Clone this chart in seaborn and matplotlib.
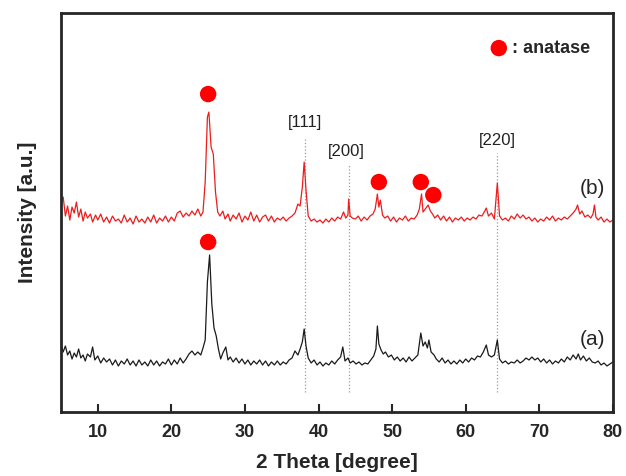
import numpy as np
import pandas as pd
import seaborn as sns
import matplotlib.pyplot as plt

# XRD patterns, (2 theta, intensity a.u.)
curve_a = [(5.0, 68), (5.3, 60), (5.6, 66), (5.9, 57), (6.2, 61), (6.5, 53), (6.8, 59), (7.1, 55),
           (7.4, 63), (7.7, 54), (8.0, 57), (8.3, 51), (8.6, 58), (9.0, 55), (9.3, 65), (9.6, 52),
           (10.0, 56), (10.4, 49), (10.8, 54), (11.2, 50), (11.6, 53), (12.0, 47), (12.4, 52), (12.8, 46),
           (13.2, 51), (13.6, 48), (14.0, 53), (14.4, 47), (14.8, 51), (15.2, 46), (15.6, 52), (16.0, 47),
           (16.4, 50), (16.8, 46), (17.2, 52), (17.6, 47), (18.0, 51), (18.4, 46), (18.8, 50), (19.2, 48),
           (19.6, 53), (20.0, 47), (20.4, 52), (20.8, 48), (21.2, 54), (21.6, 49), (22.0, 53), (22.4, 58),
           (22.8, 61), (23.2, 57), (23.6, 60), (24.0, 57), (24.3, 64), (24.6, 72), (24.9, 130), (25.2, 157),
           (25.5, 108), (25.8, 84), (26.1, 76), (26.4, 63), (26.7, 53), (27.0, 59), (27.4, 65), (27.7, 52),
           (28.0, 55), (28.4, 50), (28.8, 54), (29.2, 49), (29.6, 53), (30.0, 48), (30.4, 52), (30.8, 47),
           (31.2, 51), (31.6, 48), (32.0, 52), (32.4, 47), (32.8, 51), (33.2, 46), (33.6, 50), (34.0, 47),
           (34.4, 51), (34.8, 47), (35.2, 50), (35.6, 48), (36.0, 52), (36.4, 54), (36.8, 61), (37.2, 57),
           (37.5, 63), (37.8, 70), (38.05, 83), (38.3, 66), (38.6, 54), (39.0, 49), (39.4, 52), (39.8, 47),
           (40.2, 50), (40.6, 46), (41.0, 49), (41.4, 47), (41.8, 51), (42.2, 48), (42.6, 52), (43.0, 55),
           (43.3, 65), (43.6, 51), (44.0, 54), (44.3, 49), (44.7, 51), (45.1, 48), (45.5, 50), (45.9, 47),
           (46.3, 49), (46.7, 48), (47.1, 52), (47.5, 56), (47.8, 63), (48.0, 86), (48.2, 68), (48.5, 62),
           (48.8, 58), (49.1, 60), (49.5, 55), (49.9, 57), (50.3, 52), (50.7, 55), (51.1, 51), (51.5, 54),
           (51.9, 50), (52.3, 55), (52.7, 51), (53.1, 54), (53.5, 57), (53.9, 79), (54.2, 66), (54.5, 70),
           (54.8, 64), (55.0, 72), (55.3, 60), (55.7, 57), (56.0, 53), (56.4, 50), (56.8, 54), (57.2, 49),
           (57.6, 52), (58.0, 48), (58.4, 51), (58.8, 48), (59.2, 52), (59.6, 49), (60.0, 53), (60.4, 50),
           (60.8, 54), (61.2, 52), (61.6, 56), (62.0, 55), (62.4, 60), (62.8, 67), (63.1, 57), (63.5, 55),
           (63.9, 57), (64.3, 72), (64.6, 53), (65.0, 49), (65.4, 51), (65.8, 48), (66.2, 50), (66.6, 49),
           (67.0, 52), (67.4, 49), (67.8, 51), (68.2, 54), (68.6, 52), (69.0, 55), (69.4, 52), (69.8, 54),
           (70.2, 50), (70.6, 53), (71.0, 49), (71.4, 52), (71.8, 48), (72.2, 51), (72.6, 49), (73.0, 53),
           (73.4, 50), (73.8, 55), (74.2, 52), (74.6, 57), (75.0, 53), (75.3, 58), (75.6, 52), (76.0, 56),
           (76.4, 51), (76.8, 54), (77.2, 50), (77.6, 49), (78.0, 51), (78.4, 47), (78.8, 49), (79.2, 46),
           (79.6, 48), (80.0, 50)]

curve_b = [(5.0, 208), (5.3, 215), (5.6, 196), (5.9, 206), (6.2, 192), (6.5, 205), (6.8, 199), (7.1, 210),
           (7.4, 195), (7.7, 203), (8.0, 191), (8.3, 200), (8.6, 194), (9.0, 198), (9.3, 190), (9.7, 197),
           (10.0, 192), (10.4, 198), (10.8, 190), (11.2, 195), (11.6, 189), (12.0, 196), (12.4, 191), (12.8, 193),
           (13.2, 189), (13.6, 197), (14.0, 190), (14.4, 194), (14.8, 188), (15.2, 196), (15.6, 190), (16.0, 193),
           (16.4, 189), (16.8, 195), (17.2, 190), (17.6, 197), (18.0, 189), (18.4, 194), (18.8, 191), (19.2, 196),
           (19.6, 190), (20.0, 195), (20.4, 191), (20.8, 199), (21.2, 201), (21.6, 195), (22.0, 199), (22.4, 196),
           (22.8, 201), (23.2, 197), (23.6, 203), (24.0, 196), (24.3, 200), (24.6, 230), (24.9, 295), (25.1, 300),
           (25.4, 265), (25.7, 258), (26.0, 220), (26.3, 200), (26.6, 196), (27.0, 201), (27.3, 193), (27.7, 198),
           (28.0, 191), (28.4, 197), (28.8, 193), (29.2, 199), (29.6, 190), (30.0, 196), (30.4, 192), (30.8, 200),
           (31.2, 191), (31.6, 197), (32.0, 190), (32.4, 195), (32.8, 197), (33.2, 191), (33.6, 196), (34.0, 190),
           (34.4, 194), (34.8, 192), (35.2, 195), (35.6, 191), (36.0, 194), (36.4, 196), (36.8, 199), (37.2, 208),
           (37.5, 206), (37.8, 225), (38.05, 250), (38.3, 222), (38.6, 196), (39.0, 191), (39.4, 193), (39.8, 190),
           (40.2, 192), (40.6, 189), (41.0, 193), (41.4, 190), (41.8, 194), (42.2, 191), (42.6, 195), (43.0, 193),
           (43.4, 200), (43.7, 194), (44.0, 197), (44.1, 213), (44.3, 196), (44.6, 194), (45.0, 193), (45.4, 196),
           (45.8, 191), (46.2, 195), (46.6, 192), (47.0, 196), (47.4, 198), (47.7, 203), (48.0, 218), (48.2, 205),
           (48.4, 212), (48.7, 197), (49.0, 194), (49.4, 196), (49.8, 191), (50.2, 195), (50.6, 190), (51.0, 194),
           (51.4, 192), (51.8, 196), (52.2, 191), (52.6, 194), (53.0, 193), (53.4, 197), (53.7, 203), (54.0, 218),
           (54.2, 200), (54.5, 203), (54.9, 207), (55.2, 201), (55.5, 198), (55.8, 194), (56.2, 197), (56.6, 192),
           (57.0, 196), (57.4, 191), (57.8, 195), (58.2, 190), (58.6, 194), (59.0, 192), (59.4, 195), (59.8, 191),
           (60.2, 194), (60.6, 192), (61.0, 195), (61.4, 193), (61.8, 197), (62.2, 196), (62.6, 201), (62.8, 204),
           (63.1, 196), (63.5, 199), (63.9, 193), (64.3, 229), (64.6, 196), (65.0, 192), (65.4, 194), (65.8, 191),
           (66.2, 196), (66.6, 193), (67.0, 198), (67.4, 194), (67.8, 197), (68.2, 193), (68.6, 195), (69.0, 191),
           (69.4, 194), (69.8, 190), (70.2, 193), (70.6, 191), (71.0, 195), (71.4, 192), (71.8, 196), (72.2, 191),
           (72.6, 194), (73.0, 192), (73.4, 195), (73.8, 193), (74.2, 196), (74.6, 199), (75.0, 203), (75.2, 207),
           (75.5, 198), (75.8, 201), (76.2, 195), (76.6, 197), (77.0, 194), (77.3, 198), (77.5, 207), (77.7, 195),
           (78.0, 192), (78.4, 195), (78.8, 190), (79.2, 193), (79.6, 190), (80.0, 192)]

# anatase markers (2 theta, height)
anatase_x = [25.0, 25.0, 48.2, 53.9, 55.6]
anatase_y = [318, 170, 230, 230, 217]

# reference lines + miller index labels
hkl_pos = [38.2, 44.1, 64.3]
hkl_top = [275, 247, 259]
hkl_labels = ["[111]", "[200]", "[220]"]
hkl_label_x = [38.2, 43.8, 64.3]
hkl_label_y = [290, 261, 272]

df_a = pd.DataFrame(curve_a, columns=["theta", "intensity"])
df_b = pd.DataFrame(curve_b, columns=["theta", "intensity"])
dots = pd.DataFrame({"theta": anatase_x, "intensity": anatase_y})

sns.set_style("ticks")
plt.rcParams["font.family"] = ["Liberation Sans", "DejaVu Sans"]

fig = plt.figure(figsize=(6.26, 4.76), dpi=100)
ax = fig.add_axes([0.0974, 0.1345, 0.8816, 0.838])

#dotted reference lines
for xp, yt in zip(hkl_pos, hkl_top):
    ax.plot([xp, xp], [20, yt], ls=":", color="#9a9a9a", lw=0.9, zorder=1)
for xl, yl, lab in zip(hkl_label_x, hkl_label_y, hkl_labels):
    ax.text(xl, yl, lab, ha="center", va="center", fontsize=12, color="#222222")

sns.lineplot(data=df_a, x="theta", y="intensity", color="#1a1a1a", lw=0.9,
             sort=False, estimator=None, ax=ax, zorder=2)
sns.lineplot(data=df_b, x="theta", y="intensity", color="#ee1c1c", lw=0.9,
             sort=False, estimator=None, ax=ax, zorder=2)
sns.scatterplot(data=dots, x="theta", y="intensity", color="#ff0000", s=140,
                edgecolor="none", ax=ax, zorder=3)

ax.text(77.2, 72, "(a)", ha="center", va="center", fontsize=15)
ax.text(77.2, 224, "(b)", ha="center", va="center", fontsize=15)

# legend-like annotation
ax.scatter([64.5], [364], color="#ff0000", s=140, edgecolor="none", zorder=3)
ax.text(66.3, 364, ": anatase", ha="left", va="center", fontsize=13, fontweight="bold")

ax.set_xlim(5, 80)
ax.set_ylim(0, 399)
ax.set_xticks([10, 20, 30, 40, 50, 60, 70, 80])
ax.set_yticks([])
ax.tick_params(axis="x", direction="in", length=6, width=1.5, labelsize=13, pad=9)
for lab in ax.get_xticklabels():
    lab.set_fontweight("bold")
for sp in ax.spines.values():
    sp.set_visible(True)
    sp.set_linewidth(2)

ax.set_xlabel("2 Theta [degree]", fontsize=15, fontweight="bold", labelpad=8)
ax.set_ylabel("Intensity [a.u.]", fontsize=15, fontweight="bold", labelpad=17)

fig.savefig("out.png", dpi=100)
